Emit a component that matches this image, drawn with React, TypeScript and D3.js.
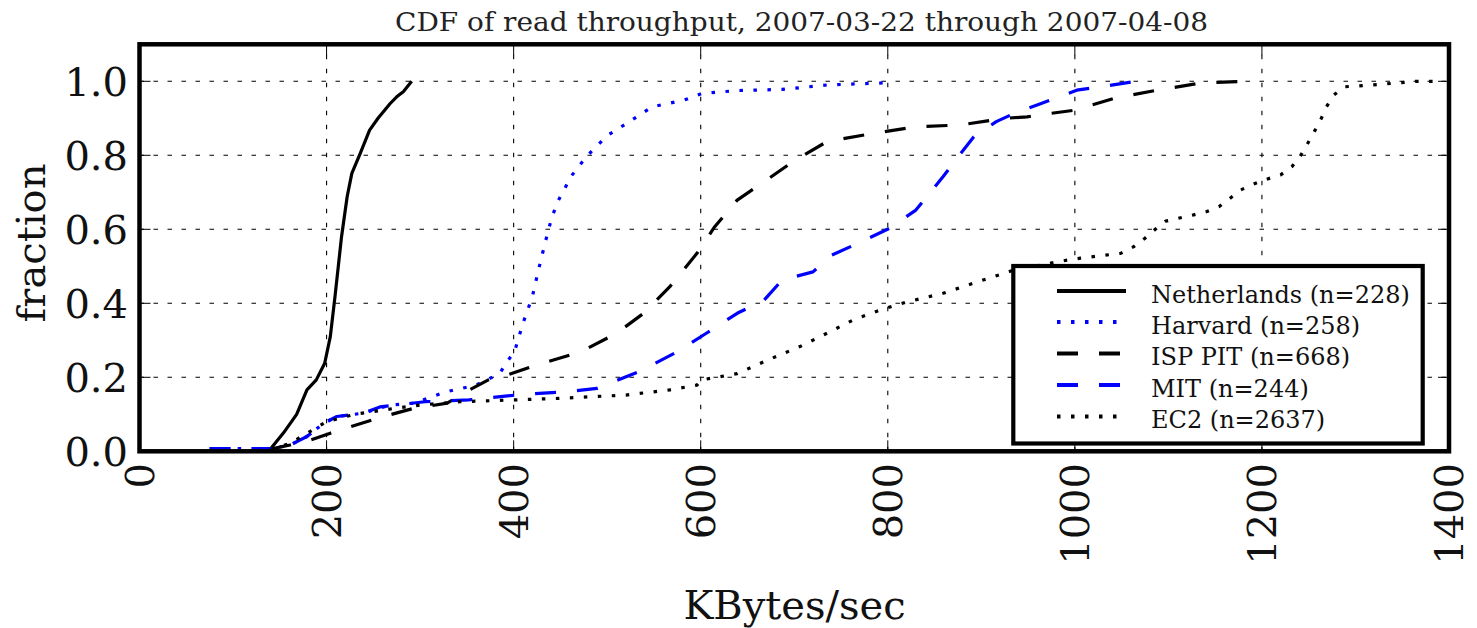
import React from "react";
import * as d3 from "d3";

const titleText = "CDF of read throughput, 2007-03-22 through 2007-04-08";
const xTicks = [0, 200, 400, 600, 800, 1000, 1200, 1400];
const yTicks = [0, 0.2, 0.4, 0.6, 0.8, 1.0];

const nlX = [140, 154, 168, 179, 189, 198, 204, 209, 216, 222, 227, 236, 246, 255, 268, 275, 282, 291];
const nlY = [0.006, 0.05, 0.10, 0.166, 0.193, 0.238, 0.31, 0.418, 0.58, 0.688, 0.751, 0.805, 0.868, 0.90, 0.94, 0.958, 0.972, 1.0];

const hvX = [75, 140, 161, 179, 197, 211, 239, 268, 293, 328, 360, 385, 393, 401, 410, 420, 427, 434, 441, 448, 462, 479, 500, 525, 548, 582, 601, 639, 687, 735, 799];
const hvY = [0.007, 0.007, 0.017, 0.04, 0.076, 0.094, 0.103, 0.125, 0.13, 0.161, 0.179, 0.21, 0.242, 0.27, 0.346, 0.418, 0.495, 0.567, 0.634, 0.679, 0.745, 0.80, 0.853, 0.893, 0.931, 0.949, 0.967, 0.975, 0.978, 0.99, 0.996];

const ispX = [140, 161, 182, 204, 225, 261, 293, 329, 346, 373, 393, 424, 472, 510, 539, 567, 596, 615, 639, 668, 701, 735, 782, 830, 877, 926, 949, 973, 1000, 1042, 1088, 1134, 1181];
const ispY = [0.006, 0.017, 0.03, 0.049, 0.066, 0.094, 0.116, 0.13, 0.157, 0.193, 0.206, 0.233, 0.269, 0.319, 0.373, 0.445, 0.535, 0.607, 0.679, 0.729, 0.787, 0.837, 0.858, 0.877, 0.882, 0.9, 0.904, 0.913, 0.922, 0.954, 0.976, 0.995, 1.0];

const mitX = [75, 140, 161, 179, 197, 211, 239, 257, 305, 352, 410, 458, 489, 507, 534, 572, 606, 639, 668, 687, 720, 740, 768, 802, 830, 859, 878, 892, 916, 935, 964, 1002, 1027, 1066];
const mitY = [0.007, 0.007, 0.017, 0.04, 0.076, 0.094, 0.103, 0.12, 0.134, 0.139, 0.154, 0.161, 0.17, 0.188, 0.215, 0.265, 0.319, 0.373, 0.409, 0.463, 0.485, 0.53, 0.562, 0.603, 0.652, 0.742, 0.805, 0.85, 0.891, 0.913, 0.94, 0.976, 0.985, 1.0];

const ec2X = [140, 160, 180, 200, 230, 270, 300, 343, 448, 520, 567, 596, 601, 639, 672, 706, 735, 763, 792, 821, 859, 902, 935, 988, 1006, 1049, 1063, 1075, 1086, 1097, 1127, 1141, 1154, 1166, 1177, 1191, 1202, 1220, 1232, 1241, 1248, 1256, 1263, 1269, 1277, 1288, 1316, 1348, 1364, 1390];
const ec2Y = [0.006, 0.02, 0.05, 0.08, 0.1, 0.115, 0.125, 0.134, 0.143, 0.152, 0.166, 0.179, 0.193, 0.21, 0.247, 0.283, 0.319, 0.355, 0.382, 0.404, 0.427, 0.463, 0.49, 0.515, 0.522, 0.535, 0.553, 0.576, 0.6, 0.622, 0.639, 0.648, 0.661, 0.684, 0.706, 0.722, 0.733, 0.747, 0.769, 0.798, 0.828, 0.864, 0.897, 0.931, 0.963, 0.985, 0.99, 0.996, 1.0, 1.0];

const seriesNames = ["Netherlands (n=228)", "Harvard (n=258)", "ISP PIT (n=668)", "MIT (n=244)", "EC2 (n=2637)"];
const seriesColors = ["#000000", "#0000ff", "#000000", "#0000ff", "#000000"];
const seriesDash = ["none", "3.5,10.5", "21,21", "21,21", "3.5,10.5"];
const seriesXs = [nlX, hvX, ispX, mitX, ec2X];
const seriesYs = [nlY, hvY, ispY, mitY, ec2Y];

const W = 1477;
const H = 628;
const left = 139.5, right = 1449, top = 44.3, bottom = 451.3;
const FONT = "'DejaVu Serif', serif";

export default function App() {
  const x = d3.scaleLinear().domain([0, 1400]).range([left, right]);
  const y = d3.scaleLinear().domain([0, 1.1]).range([bottom, top]);
  const line = d3.line<[number, number]>().x(d => x(d[0])).y(d => y(d[1]));

  const lgX0 = 1057, lgX1 = 1126, lgText = 1151;
  const lgRows = [291, 322, 353.5, 385, 416.5];

  return (
    <svg width={W} height={H} style={{ position: "absolute", left: 0, top: 0, background: "#fff" }}>
      <rect x={0} y={0} width={W} height={H} fill="#fff" />
      <text x={395} y={31} textLength={813} lengthAdjust="spacingAndGlyphs" fontFamily={FONT} fontSize={26} fill="#222">{titleText}</text>

      {/* grid */}
      {xTicks.slice(1, -1).map(t => (
        <line key={"gx" + t} x1={x(t)} x2={x(t)} y1={bottom} y2={top} stroke="#000" strokeWidth={1.1} strokeDasharray="4.5,9.5" />
      ))}
      {yTicks.slice(1).map(t => (
        <line key={"gy" + t} x1={left} x2={right} y1={y(t)} y2={y(t)} stroke="#000" strokeWidth={1.1} strokeDasharray="4.5,9.5" />
      ))}

      {/* ticks inward */}
      {xTicks.map(t => (
        <g key={"tx" + t}>
          <line x1={x(t)} x2={x(t)} y1={bottom} y2={bottom - 11} stroke="#000" strokeWidth={1} />
          <line x1={x(t)} x2={x(t)} y1={top} y2={top + 11} stroke="#000" strokeWidth={1} />
        </g>
      ))}
      {yTicks.map(t => (
        <g key={"ty" + t}>
          <line x1={left} x2={left + 11} y1={y(t)} y2={y(t)} stroke="#000" strokeWidth={1} />
          <line x1={right} x2={right - 11} y1={y(t)} y2={y(t)} stroke="#000" strokeWidth={1} />
        </g>
      ))}

      {/* series */}
      {seriesXs.map((xs, i) => {
        const pts = xs.map((v, j) => [v, seriesYs[i][j]] as [number, number]);
        return (
          <path key={"s" + i} d={line(pts) || ""} fill="none" stroke={seriesColors[i]} strokeWidth={3.2}
            strokeDasharray={seriesDash[i] === "none" ? undefined : seriesDash[i]} strokeLinejoin="round" />
        );
      })}

      {/* frame */}
      <rect x={left} y={top} width={right - left} height={bottom - top} fill="none" stroke="#000" strokeWidth={4.5} />

      {/* y tick labels */}
      {yTicks.map(t => (
        <text key={"yl" + t} x={128} y={y(t)} dy="0.36em" textAnchor="end" fontFamily={FONT} fontSize={40} fill="#111">
          {d3.format(".1f")(t)}
        </text>
      ))}
      {/* x tick labels */}
      {xTicks.map(t => (
        <text key={"xl" + t} transform={`translate(${x(t)},${463}) rotate(-90)`} dy="0.36em" textAnchor="end"
          fontFamily={FONT} fontSize={40} fill="#111">
          {String(t)}
        </text>
      ))}

      <text transform={`translate(45,243) rotate(-90)`} textAnchor="middle" fontFamily={FONT} fontSize={40} fill="#111">fraction</text>
      <text x={794.5} y={619} textAnchor="middle" fontFamily={FONT} fontSize={40} fill="#111">KBytes/sec</text>

      {/* legend */}
      <rect x={1013.3} y={266} width={1422.7 - 1013.3} height={443.5 - 266} fill="#fff" stroke="#000" strokeWidth={4.2} />
      {seriesNames.map((n, i) => (
        <g key={"lg" + i}>
          <line x1={lgX0} x2={lgX1} y1={lgRows[i]} y2={lgRows[i]} stroke={seriesColors[i]} strokeWidth={4}
            strokeDasharray={seriesDash[i] === "none" ? undefined : seriesDash[i]} />
          <text x={lgText} y={lgRows[i] + 3} dy="0.36em" fontFamily={FONT} fontSize={24} fill="#111">{n}</text>
        </g>
      ))}
    </svg>
  );
}
